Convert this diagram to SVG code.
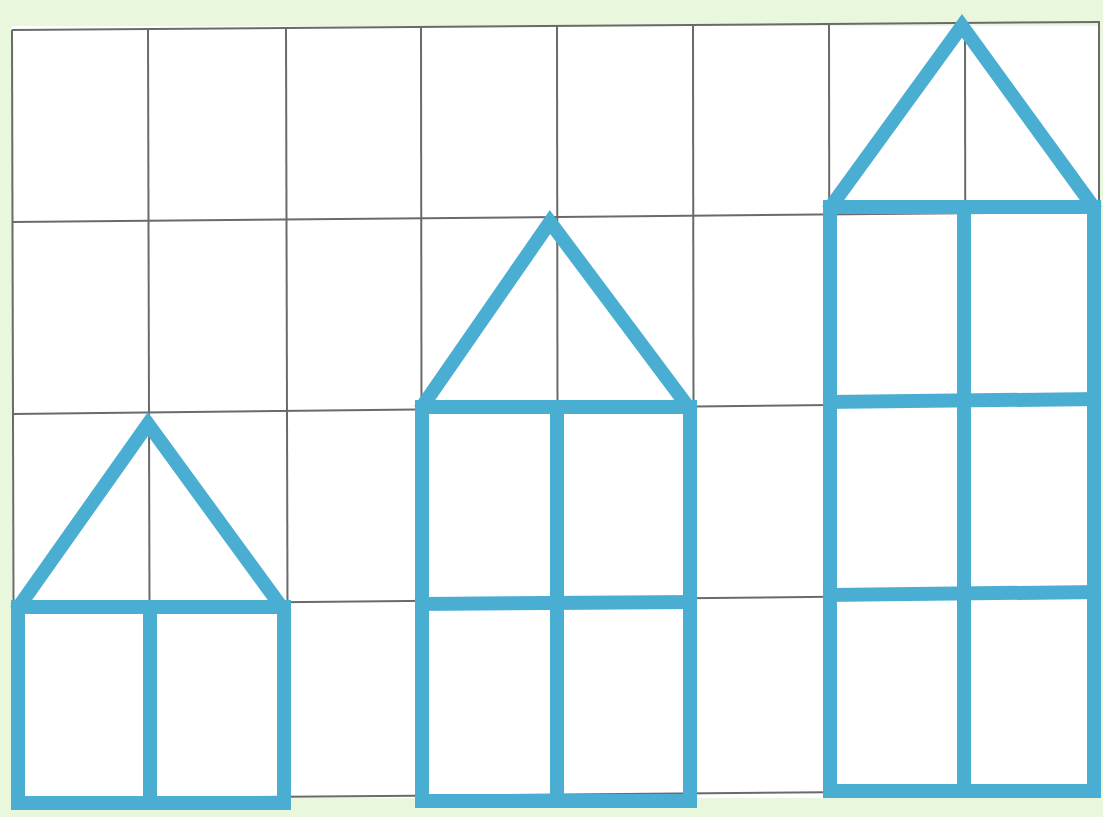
<svg xmlns="http://www.w3.org/2000/svg" width="1103" height="817" viewBox="0 0 1103 817">
<style>
.grid{stroke:#6a6a6a;stroke-width:2;fill:none}
.stick{stroke:#4aaed2;stroke-width:14;fill:none;stroke-linecap:square;stroke-linejoin:miter}
</style>
<rect x="0" y="0" width="1103" height="817" fill="#e9f7dc"/>
<rect x="12" y="26" width="1088" height="772" fill="#ffffff"/>
<g id="grid" class="grid">
<line x1="12" y1="30" x2="1100" y2="22"/>
<line x1="12" y1="222" x2="1100" y2="212"/>
<line x1="12" y1="414" x2="1100" y2="402"/>
<line x1="12" y1="605" x2="1100" y2="594"/>
<line x1="12" y1="799" x2="1100" y2="790"/>
<line x1="12" y1="30" x2="14" y2="800"/>
<line x1="148" y1="28" x2="150" y2="800"/>
<line x1="286" y1="28" x2="288" y2="800"/>
<line x1="421" y1="27" x2="422" y2="800"/>
<line x1="557" y1="26" x2="558" y2="800"/>
<line x1="693" y1="25" x2="694" y2="795"/>
<line x1="829" y1="24" x2="830" y2="795"/>
<line x1="965" y1="23" x2="966" y2="795"/>
<line x1="1099" y1="22" x2="1099" y2="792"/>
</g>
<g id="house1" class="stick">
<polyline points="20,605 148,424 280,605"/>
<rect x="18" y="607" width="266" height="196"/>
<line x1="150" y1="607" x2="150" y2="803"/>
</g>
<g id="house2" class="stick">
<polyline points="424,404 550,222 686,404"/>
<rect x="422" y="407" width="268" height="394"/>
<line x1="422" y1="604" x2="690" y2="602"/>
<line x1="557" y1="407" x2="557" y2="801"/>
</g>
<g id="house3" class="stick">
<polyline points="832,205 962,26 1092,205"/>
<rect x="830" y="207" width="264" height="584"/>
<line x1="830" y1="402" x2="1094" y2="399"/>
<line x1="830" y1="595" x2="1094" y2="592"/>
<line x1="964" y1="207" x2="964" y2="791"/>
</g>
</svg>
